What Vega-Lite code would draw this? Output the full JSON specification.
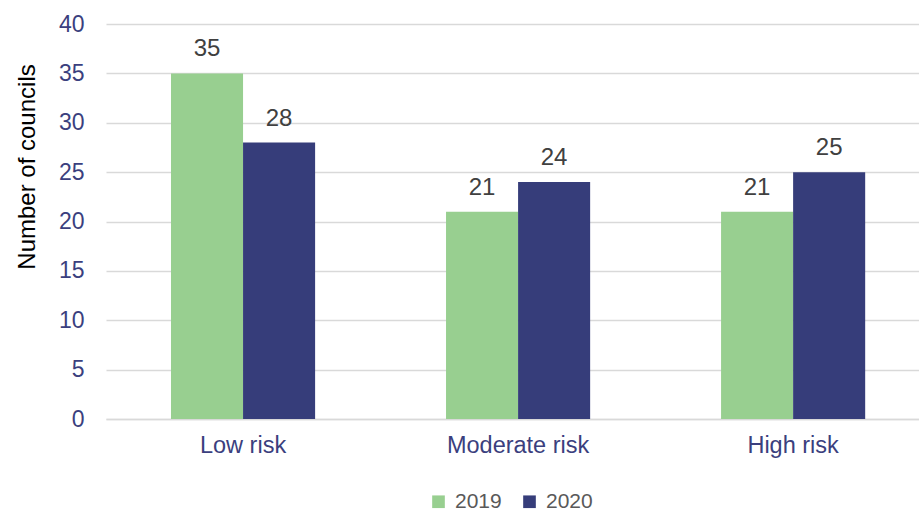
{
  "$schema": "https://vega.github.io/schema/vega-lite/v6.json",
  "width": 813,
  "height": 395,
  "autosize": "none",
  "padding": {"left": 106, "top": 24, "right": 0, "bottom": 93},
  "background": "white",
  "config": {
    "view": {"stroke": null},
    "font": "Liberation Sans"
  },
  "data": {
    "values": [
      {"risk": "Low risk", "year": "2019", "councils": 35},
      {"risk": "Low risk", "year": "2020", "councils": 28},
      {"risk": "Moderate risk", "year": "2019", "councils": 21},
      {"risk": "Moderate risk", "year": "2020", "councils": 24},
      {"risk": "High risk", "year": "2019", "councils": 21},
      {"risk": "High risk", "year": "2020", "councils": 25}
    ]
  },
  "encoding": {
    "x": {
      "field": "risk",
      "type": "nominal",
      "sort": ["Low risk", "Moderate risk", "High risk"],
      "scale": {"paddingInner": 0.476, "paddingOuter": 0.216, "align": 0.547},
      "axis": {
        "title": null,
        "labelAngle": 0,
        "labelFontSize": 23.5,
        "labelColor": "#3B3F7E",
        "labelPadding": 14,
        "ticks": false,
        "domainColor": "#D9D9D9",
        "domainWidth": 1.5
      }
    },
    "xOffset": {
      "field": "year",
      "type": "nominal",
      "scale": {"paddingInner": 0, "paddingOuter": 0}
    },
    "y": {
      "field": "councils",
      "type": "quantitative",
      "scale": {"domain": [0, 40]},
      "axis": {
        "title": "Number of councils",
        "titleFontSize": 24,
        "titleFontWeight": "normal",
        "titleColor": "#000000",
        "titleX": -79,
        "titleY": 142.5,
        "titleAngle": -90,
        "titleAlign": "center",
        "titleBaseline": "middle",
        "values": [0, 5, 10, 15, 20, 25, 30, 35, 40],
        "labelFontSize": 23,
        "labelColor": "#3B3F7E",
        "labelPadding": 22,
        "ticks": false,
        "domain": false,
        "gridColor": "#D9D9D9",
        "gridWidth": 1.5
      }
    }
  },
  "layer": [
    {
      "mark": {"type": "bar"},
      "encoding": {
        "color": {
          "field": "year",
          "type": "nominal",
          "scale": {"domain": ["2019", "2020"], "range": ["#98CF90", "#363D7A"]},
          "legend": {
            "title": null,
            "orient": "none",
            "direction": "horizontal",
            "legendX": 322,
            "legendY": 467,
            "symbolType": "square",
            "symbolSize": 160,
            "symbolStrokeWidth": 0,
            "labelFontSize": 21,
            "labelColor": "#595959",
            "labelOffset": 6,
            "columnPadding": 17
          }
        }
      }
    },
    {
      "mark": {
        "type": "text",
        "baseline": "alphabetic",
        "dy": -17,
        "fontSize": 24,
        "color": "#404040"
      },
      "encoding": {
        "text": {"field": "councils", "type": "quantitative"},
        "detail": {"field": "year"}
      }
    }
  ]
}
